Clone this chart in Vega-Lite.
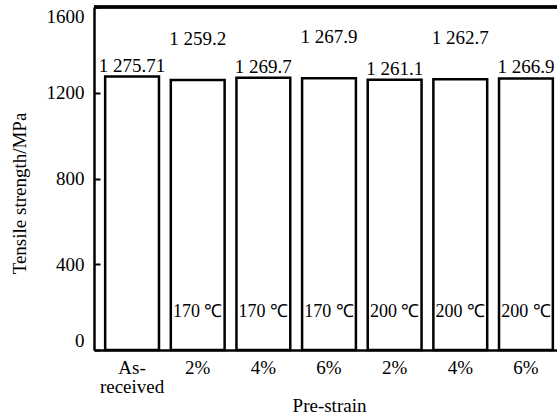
{
  "$schema": "https://vega.github.io/schema/vega-lite/v6.json",
  "autosize": "none",
  "padding": {"left": 94, "top": 7, "right": 0, "bottom": 65},
  "width": 463,
  "height": 343,
  "background": "white",
  "config": {
    "view": {"stroke": null},
    "font": "Liberation Serif",
    "axis": {
      "labelFont": "Liberation Serif",
      "titleFont": "Liberation Serif",
      "labelFontSize": 19,
      "titleFontSize": 19,
      "titleFontWeight": "normal",
      "labelColor": "black",
      "titleColor": "black",
      "domainColor": "black",
      "domainWidth": 2.5,
      "tickColor": "black",
      "tickWidth": 2,
      "grid": false
    }
  },
  "data": {
    "values": [
      {"sample": "As-received", "order": 1, "strength": 1275.71, "label": "1 275.71", "temp": ""},
      {"sample": "2% (170 ℃)", "order": 2, "strength": 1259.2, "label": "1 259.2", "temp": "170 ℃"},
      {"sample": "4% (170 ℃)", "order": 3, "strength": 1269.7, "label": "1 269.7", "temp": "170 ℃"},
      {"sample": "6% (170 ℃)", "order": 4, "strength": 1267.9, "label": "1 267.9", "temp": "170 ℃"},
      {"sample": "2% (200 ℃)", "order": 5, "strength": 1261.1, "label": "1 261.1", "temp": "200 ℃"},
      {"sample": "4% (200 ℃)", "order": 6, "strength": 1262.7, "label": "1 262.7", "temp": "200 ℃"},
      {"sample": "6% (200 ℃)", "order": 7, "strength": 1266.9, "label": "1 266.9", "temp": "200 ℃"}
    ]
  },
  "encoding": {
    "x": {
      "field": "sample",
      "type": "nominal",
      "sort": ["As-received", "2% (170 ℃)", "4% (170 ℃)", "6% (170 ℃)", "2% (200 ℃)", "4% (200 ℃)", "6% (200 ℃)"],
      "scale": {"range": [0, 470], "paddingInner": 0.18, "paddingOuter": 0.17},
      "axis": {
        "title": "Pre-strain",
        "labelAngle": 0,
        "ticks": false,
        "labelPadding": 8,
        "labelBaseline": "top",
        "labelLineHeight": 19,
        "titleY": 55,
        "titleBaseline": "middle",
        "labelExpr": "datum.value == 'As-received' ? ['As-', 'received'] : slice(datum.value, 0, 2)"
      }
    }
  },
  "layer": [
    {
      "mark": {"type": "bar", "fill": "white", "stroke": "black", "strokeWidth": 2.5},
      "encoding": {
        "y": {
          "field": "strength",
          "type": "quantitative",
          "scale": {"domain": [0, 1600], "nice": false},
          "axis": {
            "title": "Tensile strength/MPa",
            "values": [0, 400, 800, 1200, 1600],
            "format": "d",
            "tickSize": -6,
            "labelPadding": 16,
            "labelFlush": true,
            "titleX": -75,
            "titleY": 186,
            "titleAlign": "center",
            "titleBaseline": "middle",
            "titleAngle": -90
          }
        }
      }
    },
    {
      "transform": [{"filter": "datum.order % 2 == 1"}],
      "mark": {"type": "text", "font": "Liberation Serif", "fontSize": 19, "color": "black", "baseline": "alphabetic", "dy": -5},
      "encoding": {
        "y": {"field": "strength", "type": "quantitative"},
        "text": {"field": "label"}
      }
    },
    {
      "transform": [{"filter": "datum.order % 2 == 0"}],
      "mark": {"type": "text", "font": "Liberation Serif", "fontSize": 19, "color": "black", "baseline": "alphabetic", "dy": -35},
      "encoding": {
        "y": {"field": "strength", "type": "quantitative"},
        "text": {"field": "label"}
      }
    },
    {
      "transform": [{"filter": "datum.temp != ''"}],
      "mark": {"type": "text", "font": "Liberation Serif", "fontSize": 18, "color": "black", "baseline": "middle", "dy": -38},
      "encoding": {
        "y": {"datum": 0},
        "text": {"field": "temp"}
      }
    },
    {
      "mark": {"type": "rule", "stroke": "black", "strokeWidth": 2.5},
      "encoding": {
        "x": {"value": 0},
        "x2": {"value": 463},
        "y": {"datum": 1600}
      }
    }
  ]
}
